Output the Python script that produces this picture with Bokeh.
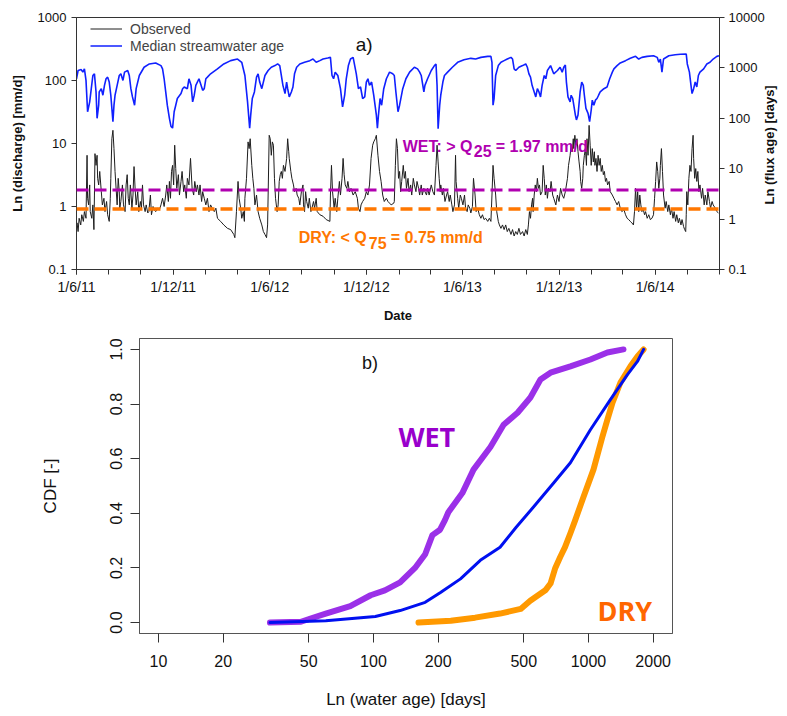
import math
import pandas as pd
from bokeh.plotting import figure
from bokeh.models import (Range1d, LogScale, LogAxis, FixedTicker, Span, Label,
                          Legend, LegendItem, CustomJSTickFormatter)
from bokeh.embed import file_html
from bokeh.resources import INLINE

FONT = "Liberation Sans"

# ---------------- data: panel a ----------------
start_date = "2011-06-01"
end_date = "2014-10-01"
tick_dates = ["2011-06-01", "2011-08-01", "2011-10-01", "2011-12-01", "2012-02-01", "2012-04-01",
              "2012-06-01", "2012-08-01", "2012-10-01", "2012-12-01", "2013-02-01", "2013-04-01",
              "2013-06-01", "2013-08-01", "2013-10-01", "2013-12-01", "2014-02-01", "2014-04-01",
              "2014-06-01", "2014-08-01", "2014-10-01"]
label_dates = ["2011-06-01", "2011-12-01", "2012-06-01", "2012-12-01", "2013-06-01", "2013-12-01", "2014-06-01"]
label_texts = ["1/6/11", "1/12/11", "1/6/12", "1/12/12", "1/6/13", "1/12/13", "1/6/14"]
left_ticks = [0.1, 1, 10, 100, 1000]
right_ticks = [0.1, 1, 10, 100, 1000, 10000]

wet_q_line = 1.82   # drawn position of the WET threshold line (left axis)
dry_q_line = 0.91   # drawn position of the DRY threshold line (left axis)

# observed discharge [mm/d], days since 2011-06-01
obs_day = [0, 1, 3, 5, 8, 10, 13, 15, 18, 20, 21, 23, 25, 26, 29, 31, 33, 34, 35, 37, 39, 40, 42, 44, 47, 49, 52, 54, 57, 59,
           62, 64, 65, 67, 69, 71, 73, 75, 77, 79, 81, 82, 84, 87, 89, 92, 94, 96, 98, 100, 102, 105, 107, 109, 111, 113, 116, 118, 121, 123,
           125, 127, 130, 132, 135, 137, 140, 142, 145, 147, 150, 154, 157, 160, 163, 166, 169, 171, 174, 176, 178, 180, 182, 184, 186, 188, 190, 193, 195, 198,
           200, 203, 205, 208, 210, 213, 216, 219, 222, 224, 227, 229, 232, 234, 237, 239, 242, 245, 248, 251, 254, 257, 261, 264, 267, 273, 279, 286, 292, 298,
           300, 303, 306, 308, 311, 313, 316, 318, 319, 322, 325, 327, 329, 332, 334, 336, 338, 341, 344, 347, 351, 354, 357, 360, 362, 363, 365, 367, 369, 371,
           373, 375, 377, 380, 382, 384, 386, 388, 390, 392, 395, 398, 400, 402, 403, 406, 408, 411, 413, 416, 418, 421, 423, 426, 429, 430, 432, 434, 436, 439,
           441, 444, 446, 449, 451, 454, 456, 461, 467, 473, 480, 481, 483, 485, 488, 490, 493, 495, 498, 500, 503, 505, 507, 509, 512, 514, 517, 520, 524, 528,
           532, 534, 537, 539, 542, 546, 549, 552, 555, 558, 561, 563, 566, 568, 571, 574, 577, 580, 583, 587, 590, 593, 596, 601,
           602, 604, 606, 608, 610, 612, 614, 616, 619, 621, 623, 625, 628, 630, 633, 635, 638, 640, 643, 645, 648, 650, 653, 655, 658, 660, 663, 665, 668, 672,
           675, 678, 681, 683, 685, 687, 689, 690, 693, 695, 698, 701, 703, 706, 708, 711, 713, 716, 718, 719, 722, 724, 727, 729, 732, 735, 737, 740, 742, 745,
           747, 750, 752, 755, 757, 760, 763, 766, 769, 772, 775, 779, 782, 785, 787, 789, 791, 794, 796, 799, 801, 804, 807, 810, 813, 816, 819, 823, 826, 829,
           832, 835, 838, 841, 845, 848, 851, 854, 856, 858, 860, 862, 864, 865, 867, 869, 871, 873, 875, 877, 879, 882, 884, 886, 888, 890, 892, 894, 897, 899, 902,
           904, 908, 911, 914, 917, 920, 923, 926, 930, 932, 935, 937, 939, 941, 942, 944, 946, 948, 950, 952, 954, 955, 957, 959, 960, 962, 964, 966, 967, 969,
           971, 973, 975, 977, 979, 981, 982, 984, 986, 988, 990, 992, 994, 996, 998, 1000, 1002, 1004, 1006, 1009, 1011, 1015, 1018, 1021, 1024, 1027, 1030, 1033, 1037, 1040,
           1043, 1046, 1049, 1052, 1055, 1057, 1059, 1061, 1063, 1065, 1067, 1069, 1071, 1073, 1076, 1078, 1081, 1084, 1087, 1090, 1093, 1095, 1097, 1099, 1101, 1103, 1105, 1106, 1108, 1110,
           1112, 1115, 1117, 1120, 1122, 1125, 1127, 1130, 1132, 1135, 1137, 1140, 1142, 1145, 1147, 1150, 1152, 1154, 1155, 1156, 1158, 1160, 1162, 1164, 1166, 1168, 1169, 1171, 1173, 1175,
           1177, 1179, 1181, 1184, 1186, 1189, 1191, 1194, 1196, 1199, 1201, 1204, 1206, 1210, 1213, 1216]
obs_q = [0.45, 0.55, 0.40, 0.65, 0.51, 0.74, 0.58, 0.83, 0.65, 6.5, 1.35, 1.06, 2.2, 0.83, 0.65, 1.06, 0.43, 1.52, 6.9, 4.5, 6.5, 2.8, 2.2, 3.6, 1.72, 1.06, 1.35, 0.83, 1.2, 0.74,
         0.58, 1.35, 2.8, 11.9, 16.2, 8.3, 3.6, 1.94, 1.06, 2.8, 1.72, 0.94, 1.2, 2.2, 1.06, 0.83, 2.2, 3.2, 1.35, 1.06, 2.2, 0.94, 1.52, 4.3, 1.94, 1.06, 1.72, 0.83, 1.2, 0.94,
         2.2, 1.06, 0.83, 1.06, 0.79, 0.83, 1.52, 0.74, 1.0, 0.89, 0.83, 0.94, 0.89, 1.06, 1.35, 1.0, 1.52, 2.2, 1.2, 2.5, 1.35, 3.6, 4.5, 2.2, 9.4, 4.0, 1.94, 3.2, 1.52, 2.5,
         3.6, 1.72, 2.2, 1.35, 2.8, 2.2, 5.8, 1.94, 1.52, 2.5, 1.72, 2.2, 1.52, 2.2, 1.2, 1.72, 1.35, 1.06, 1.35, 0.83, 1.06, 0.94, 0.83, 0.94, 0.65, 0.58, 0.51, 0.45, 0.43, 0.36,
         0.32, 0.83, 2.5, 1.35, 0.94, 0.65, 0.83, 0.58, 1.35, 2.8, 10.6, 8.3, 11.9, 4.5, 2.8, 1.94, 1.06, 1.52, 0.83, 0.65, 0.51, 0.40, 0.36, 0.32, 0.51, 1.52, 13.5, 11.9, 6.5, 10.6,
         9.4, 2.8, 1.35, 0.83, 1.06, 2.5, 3.2, 3.6, 2.8, 4.5, 3.6, 5.8, 11.9, 7.4, 5.8, 3.6, 2.8, 2.2, 1.72, 1.94, 1.52, 1.35, 1.06, 1.72, 2.2, 1.06, 0.83, 1.72, 1.2, 0.94,
         1.35, 0.83, 0.94, 1.2, 0.94, 1.35, 0.83, 0.74, 0.70, 0.62, 0.58, 1.52, 4.5, 1.72, 0.94, 1.35, 0.83, 1.35, 2.5, 1.52, 2.8, 5.8, 3.2, 2.2, 1.94, 2.5, 1.72, 1.94, 1.52, 1.72,
         1.35, 0.94, 0.83, 1.06, 1.2, 1.35, 1.72, 1.52, 2.2, 5.8, 9.4, 10.6, 11.9, 13.5, 6.5, 3.6, 2.5, 1.52, 1.2, 1.35, 1.2, 1.13, 1.06, 1.13,
         1.2, 4.5, 11.9, 8.3, 2.8, 3.6, 1.72, 2.5, 4.5, 2.8, 3.6, 1.94, 2.8, 1.72, 2.2, 1.52, 2.8, 2.2, 1.72, 2.5, 1.94, 1.52, 2.2, 1.52, 1.94, 1.72, 1.52, 1.94, 1.52, 2.2,
         1.72, 1.52, 4.5, 9.4, 5.1, 2.8, 1.72, 2.2, 1.52, 1.94, 1.2, 1.52, 1.72, 1.2, 1.52, 1.06, 0.83, 1.06, 6.5, 2.5, 1.35, 0.94, 1.52, 1.35, 1.06, 1.52, 0.94, 0.83, 1.06, 0.94,
         0.79, 1.0, 2.8, 1.52, 0.83, 0.94, 0.74, 0.65, 0.74, 0.62, 0.65, 0.58, 0.65, 0.58, 1.52, 4.5, 2.8, 1.52, 0.83, 0.58, 0.51, 0.45, 0.51, 0.43, 0.51, 0.40, 0.45, 0.36, 0.43, 0.34,
         0.40, 0.36, 0.45, 0.36, 0.40, 0.34, 0.43, 0.36, 0.51, 0.83, 0.65, 1.06, 1.35, 0.83, 1.52, 2.2, 1.72, 2.8, 1.94, 2.2, 1.52, 1.72, 4.5, 2.8, 1.52, 2.2, 1.35, 1.94, 1.72, 2.5, 1.52,
         1.35, 1.06, 1.52, 1.2, 1.94, 1.52, 1.35, 1.72, 2.8, 4.5, 6.5, 9.4, 7.4, 11.9, 8.3, 13.5, 9.4, 11.9, 7.4, 5.1, 3.6, 2.5, 1.94, 2.8, 4.5, 6.5, 8.3, 4.5, 11.9, 6.5,
         19.4, 9.4, 4.5, 8.3, 5.1, 7.4, 4.5, 5.8, 3.6, 6.5, 4.5, 5.8, 3.6, 4.5, 3.2, 3.6, 2.5, 2.8, 2.2, 2.5, 1.72, 1.52, 1.35, 1.2, 1.06, 1.2, 0.94, 0.83, 0.89, 0.74,
         0.65, 0.62, 0.58, 0.55, 0.51, 0.83, 1.94, 0.94, 1.72, 0.83, 1.52, 1.06, 0.83, 0.94, 0.74, 0.83, 0.65, 0.74, 0.62, 0.65, 0.74, 1.35, 2.5, 5.1, 3.6, 1.94, 2.8, 4.5, 8.3, 3.6,
         1.52, 0.94, 1.2, 0.83, 1.06, 0.74, 0.94, 0.65, 0.83, 0.58, 0.74, 0.55, 0.65, 0.51, 0.62, 0.48, 0.43, 0.40, 0.74, 1.72, 1.06, 2.8, 4.5, 3.6, 8.3, 13.5, 5.8, 2.8, 4.0, 2.5,
         3.6, 1.72, 2.2, 1.35, 1.94, 1.06, 1.52, 1.06, 1.72, 1.2, 0.94, 1.2, 1.06, 0.94, 0.83, 0.79]

# median streamwater age [days]
age_day = [0, 3, 9, 12, 15, 18, 21, 25, 28, 31, 34, 37, 39, 42, 43, 47, 50, 53, 56, 59, 62, 65, 69, 71, 73, 77, 81, 84, 88, 91,
           97, 100, 103, 106, 110, 113, 119, 128, 138, 150, 160, 163, 166, 169, 172, 176, 179, 182, 185, 188, 191, 198, 201, 204, 210, 213, 217, 220, 223, 226,
           232, 239, 242, 245, 248, 254, 267, 279, 292, 305,
           313, 319, 324, 328, 330, 333, 337, 341, 344, 347, 351, 357, 363, 369, 376, 381, 385, 388, 391, 395, 398, 400, 403, 407, 410, 413, 417, 423, 432, 442,
           448, 454, 461, 467, 476, 481, 484, 487, 490, 495, 500, 504, 508, 511, 515, 519, 524, 530, 534, 538, 542, 546, 549, 552, 555, 559, 563, 568, 570, 572,
           575, 578, 582, 587, 593, 599,
           602, 605, 609, 612, 618, 624, 631, 640, 646, 650, 653, 658, 660, 665, 672, 678, 681, 683, 685, 688, 690, 694, 697, 703, 712, 722, 734, 747, 756, 766,
           779, 785, 787, 789, 791, 794, 799, 804, 810, 816, 823, 826, 829, 832, 838, 845, 851, 854, 857, 860, 863, 867, 870, 873, 876, 879, 882, 886, 889, 892, 898,
           904, 911, 916, 920, 923, 926, 928, 931, 935, 937, 940, 942, 945, 947, 950, 954, 957, 960, 962, 965, 969, 972, 975, 977, 980, 983, 986, 989, 992, 999,
           1005, 1010, 1015, 1018, 1024, 1030, 1040, 1049, 1059, 1065, 1071, 1081, 1093, 1100, 1103, 1106, 1109, 1112, 1122, 1134, 1144, 1155, 1157, 1161, 1164, 1166, 1169, 1172, 1175, 1178,
           1181, 1188, 1194, 1200, 1206, 1213, 1217]
age_val = [609, 887, 926, 823, 956, 565, 135, 212, 387, 707, 763, 333, 100, 182, 333, 387, 287, 451, 609, 656, 524, 287, 86, 182, 287, 451, 707, 763, 565, 823,
           887, 707, 387, 266, 182, 387, 707, 1031, 1198, 1253, 1111, 956, 609, 333, 182, 100, 69, 64, 135, 182, 247, 309, 387, 418, 387, 609, 451, 212, 287, 451,
           609, 359, 387, 609, 656, 763, 956, 1198, 1393, 1500,
           1291, 707, 212, 64, 116, 247, 333, 656, 763, 524, 387, 707, 887, 1031, 1111, 1198, 1111, 707, 451, 309, 524, 387, 266, 333, 418, 763, 1031, 1198, 1291, 1393,
           1500, 1291, 1393, 1500, 1571, 1618, 707, 609, 823, 707, 387, 169, 287, 609, 1111, 1500, 1618, 763, 387, 418, 247, 266, 524, 609, 451, 524, 287, 116, 64, 116,
           247, 182, 387, 609, 823, 763,
           707, 333, 135, 182, 387, 609, 823, 1031, 956, 823, 707, 333, 451, 609, 887, 1111, 1198, 451, 62, 182, 287, 524, 707, 823, 1031, 1291, 1457, 1548, 1500, 1618,
           1694, 1694, 1291, 182, 247, 707, 1111, 1291, 1393, 1500, 1618, 1500, 956, 887, 1031, 1111, 1198, 1031, 763, 656, 451, 333, 266, 387, 333, 266, 451, 707, 609, 887, 1111,
           763, 887, 1031, 823, 1031, 1145, 524, 266, 212, 287, 247, 182, 116, 93, 116, 333, 524, 451, 287, 157, 125, 86, 146, 229, 182, 229, 247, 287, 333, 387,
           418, 609, 823, 956, 1111, 1253, 1393, 1548, 1694, 1500, 1618, 1694, 1745, 1618, 1291, 1500, 823, 1500, 1745, 1825, 1865, 1882, 1198, 823, 451, 309, 387, 524, 418, 707,
           823, 956, 1198, 1291, 1500, 1694, 1745]

# ---------------- data: panel b (CDFs) ----------------
wet_age = [33, 46, 51, 60, 78, 97, 113, 133, 156, 174, 188, 204, 215, 223, 259, 292, 350, 403, 468, 537, 598, 666, 824, 1021, 1225, 1455]
wet_cdf = [0.0, 0.003, 0.015, 0.033, 0.06, 0.1, 0.118, 0.147, 0.2, 0.25, 0.32, 0.34, 0.375, 0.404, 0.474, 0.56, 0.643, 0.724, 0.768, 0.824, 0.89, 0.915, 0.938, 0.963, 0.989, 1.0]
all_age = [33, 60, 102, 133, 174, 205, 254, 314, 388, 462, 555, 687, 824, 1021, 1265, 1518, 1690, 1805]
all_cdf = [0.0, 0.007, 0.022, 0.044, 0.074, 0.11, 0.16, 0.228, 0.276, 0.35, 0.423, 0.51, 0.585, 0.706, 0.816, 0.908, 0.956, 1.0]
dry_age = [162, 229, 297, 388, 484, 536, 630, 666, 701, 739, 778, 824, 868, 948, 1055, 1161, 1225, 1294, 1409, 1568, 1690, 1805]
dry_cdf = [0.0, 0.007, 0.018, 0.033, 0.05, 0.08, 0.118, 0.143, 0.2, 0.24, 0.276, 0.327, 0.375, 0.46, 0.56, 0.68, 0.743, 0.805, 0.879, 0.938, 0.974, 1.0]
age_ticks = [10, 20, 50, 100, 200, 500, 1000, 2000]
cdf_ticks = [0.0, 0.2, 0.4, 0.6, 0.8, 1.0]


def day_of(d):
    return int((pd.Timestamp(d) - pd.Timestamp(start_date)).days)


AXC = "#333333"


def style_axis(ax, size="13px"):
    ax.axis_line_color = AXC
    ax.major_tick_line_color = AXC
    ax.minor_tick_line_color = None
    ax.major_tick_in = 0
    ax.major_tick_out = 5
    ax.major_label_text_font = FONT
    ax.major_label_text_font_size = size
    ax.major_label_text_font_style = "normal"
    ax.major_label_text_color = "#111111"
    ax.axis_label_text_font = FONT
    ax.axis_label_text_color = "#111111"


# ================= panel a =================
p1 = figure(width=787, height=325, y_axis_type="log",
            x_range=Range1d(0, day_of(end_date)), y_range=Range1d(0.1, 1000),
            output_backend="svg", toolbar_location=None,
            min_border_left=76, min_border_right=66, min_border_top=17, min_border_bottom=53)
p1.extra_y_ranges = {"age": Range1d(0.1, 10000)}
p1.extra_y_scales = {"age": LogScale()}
p1.xgrid.visible = False
p1.ygrid.visible = False
p1.outline_line_color = AXC
p1.background_fill_color = "white"
p1.border_fill_color = "white"

r_obs = p1.line(obs_day, obs_q, line_color="#1e1e1e", line_width=1)
r_age = p1.line(age_day, age_val, line_color="#1020ff", line_width=1.6, y_range_name="age")

p1.add_layout(Span(location=wet_q_line, dimension="width", line_color="#b000b0",
                   line_width=3, line_dash="12 6"))
p1.add_layout(Span(location=dry_q_line, dimension="width", line_color="#ff7700",
                   line_width=3.5, line_dash="12 6"))

xa = p1.xaxis[0]
style_axis(xa, "14px")
xa.ticker = FixedTicker(ticks=[day_of(d) for d in label_dates],
                        minor_ticks=[day_of(d) for d in tick_dates])
xa.minor_tick_line_color = AXC
xa.minor_tick_in = 0
xa.minor_tick_out = 5
xa.major_label_overrides = {day_of(d): t for d, t in zip(label_dates, label_texts)}
xa.major_label_standoff = 4
xa.axis_label = "Date"
xa.axis_label_text_font_style = "bold"
xa.axis_label_text_font_size = "13px"
xa.axis_label_standoff = 10

ya = p1.yaxis[0]
style_axis(ya)
ya.ticker = FixedTicker(ticks=left_ticks)
ya.formatter = CustomJSTickFormatter(code="return String(tick)")
ya.axis_label = "Ln (discharge) [mm/d]"
ya.axis_label_text_font_style = "bold"
ya.axis_label_text_font_size = "13px"
ya.axis_label_standoff = 10

# right axis: ticks and tick labels
ar = LogAxis(y_range_name="age")
style_axis(ar)
ar.ticker = FixedTicker(ticks=right_ticks)
ar.formatter = CustomJSTickFormatter(code="return String(tick)")
ar.major_label_standoff = 4
p1.add_layout(ar, "right")

# right axis title only: reads bottom-to-top and is centred on the axis as in the reference
ar2 = LogAxis(y_range_name="age")
ar2.ticker = FixedTicker(ticks=[])
ar2.axis_line_color = None
ar2.major_tick_line_color = None
ar2.minor_tick_line_color = None
ar2.axis_label_text_font = FONT
ar2.axis_label_text_font_style = "bold"
ar2.axis_label_text_font_size = "13px"
ar2.axis_label_text_color = "#111111"
ar2.axis_label_standoff = 2
props = ar2.properties()
if "axis_label_orientation" in props and "axis_label_align" in props:
    ar2.axis_label_orientation = math.pi / 2
    ar2.axis_label_align = "start"
    ar2.axis_label = "\u00a0" * 18 + "Ln (flux age) [days]"
else:
    ar2.axis_label = "Ln (flux age) [days]"
p1.add_layout(ar2, "right")

leg = Legend(items=[LegendItem(label="Observed", renderers=[r_obs]),
                    LegendItem(label="Median streamwater age", renderers=[r_age])],
             location=(14, 215), margin=0, padding=2, spacing=0,
             glyph_width=32, glyph_height=17, label_height=17, label_standoff=8,
             label_text_font=FONT, label_text_font_size="14px",
             background_fill_alpha=0, border_line_color=None)
p1.add_layout(leg)

p1.add_layout(Label(x=529, y=373, text="a)", text_font=FONT, text_font_size="19px",
                    text_color="#111111", text_baseline="alphabetic"))

WETC = "#b000b0"
DRYC = "#ff7700"
wet_x, wet_y, wet_sub_y = 618, 8.8, 7.6
for txt, xo, yy in [("WET: > Q", 0, wet_y), ("25", 71, wet_sub_y), ("= 1.97 mm/d", 93, wet_y)]:
    p1.add_layout(Label(x=wet_x, y=yy, x_offset=xo, text=txt, text_font=FONT, text_font_size="16px",
                        text_font_style="bold", text_color=WETC, text_baseline="alphabetic"))
dry_x, dry_y, dry_sub_y = 421, 0.319, 0.267
for txt, xo, yy in [("DRY: < Q", 0, dry_y), ("75", 70, dry_sub_y), ("= 0.75 mm/d", 92, dry_y)]:
    p1.add_layout(Label(x=dry_x, y=yy, x_offset=xo, text=txt, text_font=FONT, text_font_size="16px",
                        text_font_style="bold", text_color=DRYC, text_baseline="alphabetic"))

# ================= panel b =================
p2 = figure(width=787, height=391, x_axis_type="log",
            x_range=Range1d(8.16, 2460), y_range=Range1d(-0.04, 1.04),
            output_backend="svg", toolbar_location=None,
            min_border_left=139, min_border_right=115, min_border_top=13, min_border_bottom=83)
p2.xgrid.visible = False
p2.ygrid.visible = False
p2.outline_line_color = "#555555"
p2.background_fill_color = "white"
p2.border_fill_color = "white"

p2.line(wet_age, wet_cdf, line_color="#9b30e8", line_width=6, line_join="round", line_cap="round")
p2.line(dry_age, dry_cdf, line_color="#ff9900", line_width=6, line_join="round", line_cap="round")
p2.line(all_age, all_cdf, line_color="#0010f0", line_width=3, line_join="round", line_cap="round")

bx = p2.xaxis[0]
style_axis(bx, "16px")
bx.axis_line_color = "#555555"
bx.major_tick_out = 9
bx.ticker = FixedTicker(ticks=age_ticks)
bx.formatter = CustomJSTickFormatter(code="return String(tick)")
bx.major_label_standoff = 12
bx.axis_label = "Ln (water age) [days]"
bx.axis_label_text_font_size = "17px"
bx.axis_label_text_font_style = "normal"
bx.axis_label_standoff = 20

by = p2.yaxis[0]
style_axis(by, "16px")
by.axis_line_color = "#555555"
by.major_tick_out = 9
by.ticker = FixedTicker(ticks=cdf_ticks)
by.formatter = CustomJSTickFormatter(code="return tick.toFixed(1)")
by.major_label_orientation = "vertical"
by.major_label_standoff = 8
by.axis_label = "CDF [-]"
by.axis_label_text_font_size = "17px"
by.axis_label_text_font_style = "normal"
by.axis_label_standoff = 48

p2.add_layout(Label(x=88.5, y=0.952, text="b)", text_font=FONT, text_font_size="18px",
                    text_color="#111111", text_baseline="alphabetic"))
p2.add_layout(Label(x=130.6, y=0.68, text="WET", text_font="Open Sans", text_font_size="27px",
                    text_font_style="bold", text_color="#9900cc", text_baseline="alphabetic"))
p2.add_layout(Label(x=1102, y=0.044, text="DRY", text_font="Open Sans", text_font_size="27px",
                    text_font_style="bold", text_color="#ff6600", text_baseline="alphabetic"))

open("out.html", "w").write(file_html([p1, p2], INLINE))
